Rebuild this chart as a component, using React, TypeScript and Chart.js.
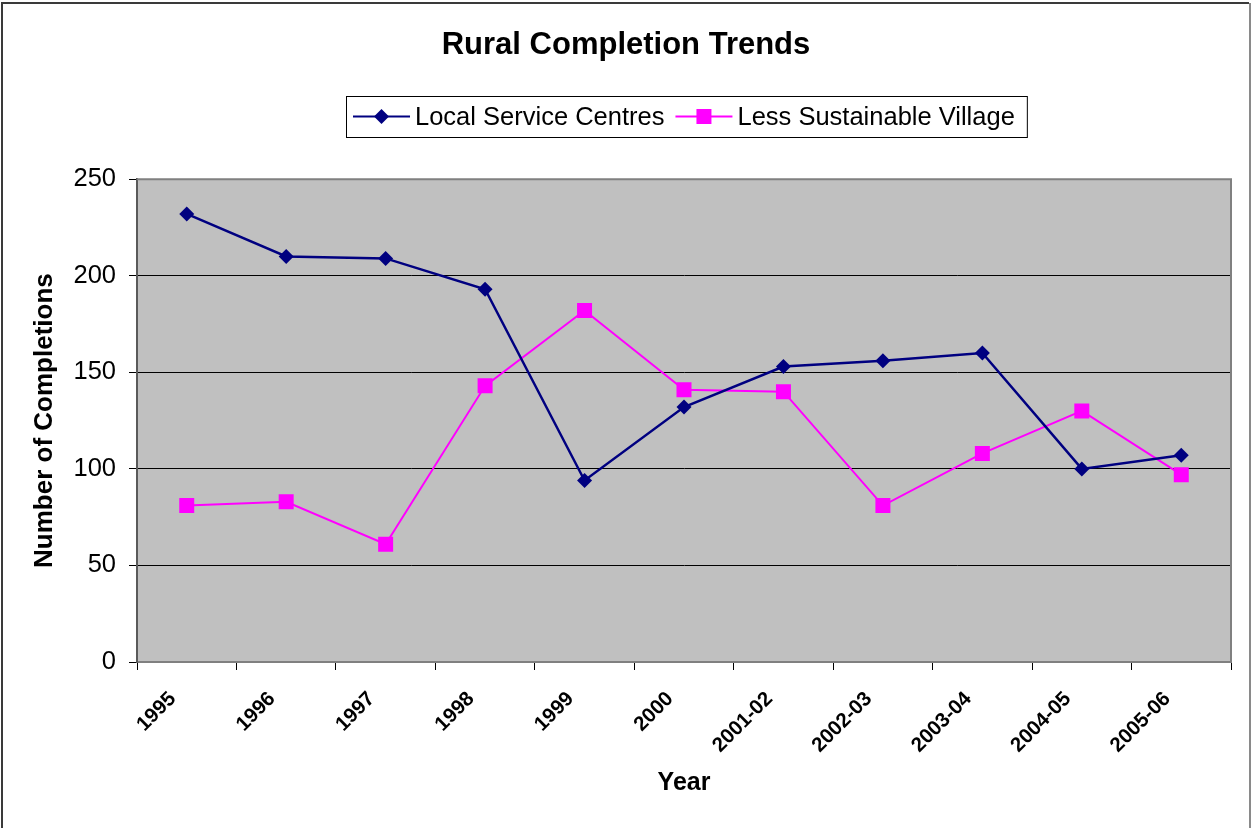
import React, { useEffect, useRef } from "react";
import { Chart, registerables } from "chart.js";

Chart.register(...registerables);

// Chart content
const chartTitle = "Rural Completion Trends";
const yAxisTitle = "Number of Completions";
const xAxisTitle = "Year";

const years = [
  "1995", "1996", "1997", "1998", "1999", "2000",
  "2001-02", "2002-03", "2003-04", "2004-05", "2005-06",
];

const localServiceCentres = [232, 210, 209, 193, 94, 132, 153, 156, 160, 100, 107];
const lessSustainableVillage = [81, 83, 61, 143, 182, 141, 140, 81, 108, 130, 97];

const seriesNames = ["Local Service Centres", "Less Sustainable Village"];

const yMin = 0;
const yMax = 250;
const yStep = 50;

const FONT = "'Liberation Sans', Arial, sans-serif";

// Grey plot background and the outer frame of the plot
const plotFrame = {
  id: "plotFrame",
  beforeDraw(chart: any) {
    const { ctx, chartArea: a } = chart;
    ctx.save();
    ctx.fillStyle = "#C0C0C0";
    ctx.fillRect(a.left, a.top, a.right - a.left, a.bottom - a.top);
    ctx.restore();
  },
  beforeDatasetsDraw(chart: any) {
    const { ctx, chartArea: a } = chart;
    ctx.save();
    ctx.strokeStyle = "#808080";
    ctx.lineWidth = 2;
    ctx.beginPath();
    ctx.moveTo(a.left, a.top);
    ctx.lineTo(a.right, a.top);
    ctx.lineTo(a.right, a.bottom);
    ctx.stroke();
    ctx.restore();
  },
  afterDraw(chart: any) {
    const { ctx, width, height } = chart;
    ctx.save();
    ctx.lineWidth = 2;
    ctx.strokeStyle = "#3a3a3a";
    ctx.beginPath();
    ctx.moveTo(2, height + 5);
    ctx.lineTo(2, 3);
    ctx.lineTo(width - 3, 3);
    ctx.stroke();
    ctx.strokeStyle = "#8a8a8a";
    ctx.beginPath();
    ctx.moveTo(width - 2, 3);
    ctx.lineTo(width - 2, height + 5);
    ctx.stroke();
    ctx.restore();
  },
};

// Boxed legend with line-and-marker samples
const boxedLegend = {
  id: "boxedLegend",
  afterDraw(chart: any) {
    const { ctx } = chart;
    const datasets = chart.data.datasets;
    const boxLeft = 346;
    const boxTop = 96;
    const boxHeight = 41;
    const midY = boxTop + boxHeight / 2;
    ctx.save();
    ctx.font = `25.5px ${FONT}`;
    ctx.textBaseline = "middle";
    ctx.textAlign = "left";
    let x = boxLeft + 7;
    datasets.forEach((ds: any) => {
      ctx.strokeStyle = ds.borderColor;
      ctx.lineWidth = 2;
      ctx.beginPath();
      ctx.moveTo(x, midY);
      ctx.lineTo(x + 57, midY);
      ctx.stroke();
      ctx.fillStyle = ds.pointBackgroundColor;
      ctx.beginPath();
      if (ds.pointStyle === "rectRot") {
        const r = 7.5;
        const cx = x + 28.5;
        ctx.moveTo(cx - r, midY);
        ctx.lineTo(cx, midY - r);
        ctx.lineTo(cx + r, midY);
        ctx.lineTo(cx, midY + r);
        ctx.closePath();
      } else {
        const s = 7.5;
        ctx.rect(x + 28.5 - s, midY - s, 2 * s, 2 * s);
      }
      ctx.fill();
      ctx.fillStyle = "#000";
      const tx = x + 62;
      ctx.fillText(ds.label, tx, midY + 1);
      x = tx + ctx.measureText(ds.label).width + 11;
    });
    const boxRight = x + 1;
    ctx.strokeStyle = "#000";
    ctx.lineWidth = 1;
    ctx.strokeRect(boxLeft + 0.5, boxTop + 0.5, boxRight - boxLeft, boxHeight);
    ctx.restore();
  },
};

export default function App() {
  const canvasRef = useRef<HTMLCanvasElement | null>(null);

  useEffect(() => {
    if (!canvasRef.current) return;
    const chart = new Chart(canvasRef.current, {
      type: "line",
      data: {
        labels: years,
        datasets: [
          {
            label: seriesNames[0],
            data: localServiceCentres,
            borderColor: "#000080",
            backgroundColor: "#000080",
            pointBackgroundColor: "#000080",
            pointBorderColor: "#000080",
            pointStyle: "rectRot",
            pointRadius: 7.5,
            pointBorderWidth: 0,
            borderWidth: 2.5,
            tension: 0,
          },
          {
            label: seriesNames[1],
            data: lessSustainableVillage,
            borderColor: "#FF00FF",
            backgroundColor: "#FF00FF",
            pointBackgroundColor: "#FF00FF",
            pointBorderColor: "#FF00FF",
            pointStyle: "rect",
            pointRadius: 10.6,
            pointBorderWidth: 0,
            borderWidth: 2,
            tension: 0,
          },
        ],
      },
      options: {
        responsive: false,
        animation: false,
        layout: { padding: { left: 0, right: 0, top: 0, bottom: 0 } },
        plugins: {
          legend: { display: false },
          tooltip: { enabled: false },
          title: {
            display: true,
            text: chartTitle,
            color: "#000",
            font: { family: FONT, size: 31, weight: "bold", lineHeight: 1.2 },
            padding: { top: 27, bottom: 115 },
          },
        },
        scales: {
          x: {
            type: "category",
            offset: true,
            afterFit(scale: any) {
              scale.height = 166;
            },
            grid: {
              offset: true,
              drawOnChartArea: false,
              drawTicks: true,
              tickLength: 8,
              tickColor: "#000",
              lineWidth: 1,
            },
            border: { display: true, color: "#808080", width: 2 },
            ticks: {
              autoSkip: false,
              minRotation: 45,
              maxRotation: 45,
              padding: 17,
              labelOffset: -14,
              color: "#000",
              font: { family: FONT, size: 20.5, weight: "bold", lineHeight: 1.2 },
            },
            title: {
              display: true,
              text: xAxisTitle,
              color: "#000",
              font: { family: FONT, size: 25, weight: "bold", lineHeight: 1.2 },
              padding: { top: 0, bottom: 30 },
            },
          },
          y: {
            min: yMin,
            max: yMax,
            afterFit(scale: any) {
              scale.width = 137;
            },
            grid: {
              drawTicks: true,
              tickLength: 8,
              tickColor: "#000",
              color: (ctx: any) =>
                ctx.tick && (ctx.tick.value === yMax || ctx.tick.value === yMin)
                  ? "rgba(0,0,0,0)"
                  : "#000",
              lineWidth: 1,
            },
            border: { display: true, color: "#5a5a5a", width: 2 },
            ticks: {
              stepSize: yStep,
              padding: 13,
              color: "#000",
              font: { family: FONT, size: 25.5, lineHeight: 1.2 },
            },
            title: {
              display: true,
              text: yAxisTitle,
              color: "#000",
              font: { family: FONT, size: 26, weight: "bold", lineHeight: 1.2 },
              padding: { top: 29, bottom: 0 },
            },
          },
          // empty right-hand margin so the title centres on the full width
          margin: {
            type: "linear",
            position: "right",
            afterFit(scale: any) {
              scale.width = 21;
            },
            grid: { display: false, drawTicks: false },
            border: { display: false },
            ticks: { display: false },
          },
        },
      },
      plugins: [plotFrame, boxedLegend],
    });
    return () => chart.destroy();
  }, []);

  return (
    <div style={{ position: "fixed", left: 0, top: 0, width: 1252, height: 828, background: "#fff" }}>
      <canvas ref={canvasRef} width={1252} height={828} style={{ display: "block" }} />
    </div>
  );
}
